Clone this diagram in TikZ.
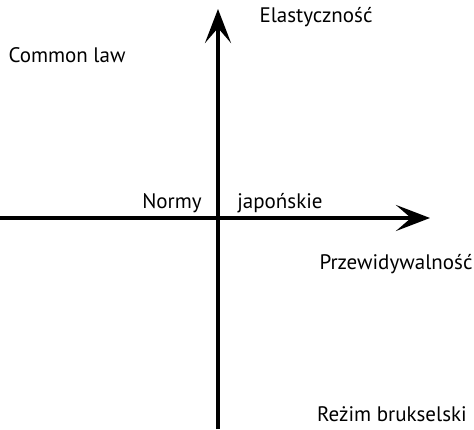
\documentclass[tikz,border=0pt]{standalone}
\usepackage{fontspec}
\setmainfont{PT Sans}
\usetikzlibrary{arrows.meta}
\begin{document}
\begin{tikzpicture}[x=1pt,y=1pt,
  axis/.style={line width=4pt,-{Stealth[length=34pt,width=26pt,inset=15pt]}},
  lbl/.style={font=\fontsize{21}{24}\selectfont,inner sep=0pt}]
\useasboundingbox (0,0) rectangle (474,429);
\coordinate (vbot) at (218,0);
\coordinate (vtop) at (218,420);
\coordinate (hleft) at (0,211);
\coordinate (hright) at (430,211);
\draw[axis] (vbot) -- (vtop);
\draw[axis] (hleft) -- (hright);
\node[lbl] (ela) at (316,412) {Elastyczność};
\node[lbl] (cl) at (67,374) {Common law};
\node[lbl] (nor) at (172,226) {Normy};
\node[lbl] (jap) at (280,226) {japońskie};
\node[lbl] (prz) at (396,165) {Przewidywalność};
\node[lbl] (rez) at (392,15) {Reżim brukselski};
\end{tikzpicture}
\end{document}
